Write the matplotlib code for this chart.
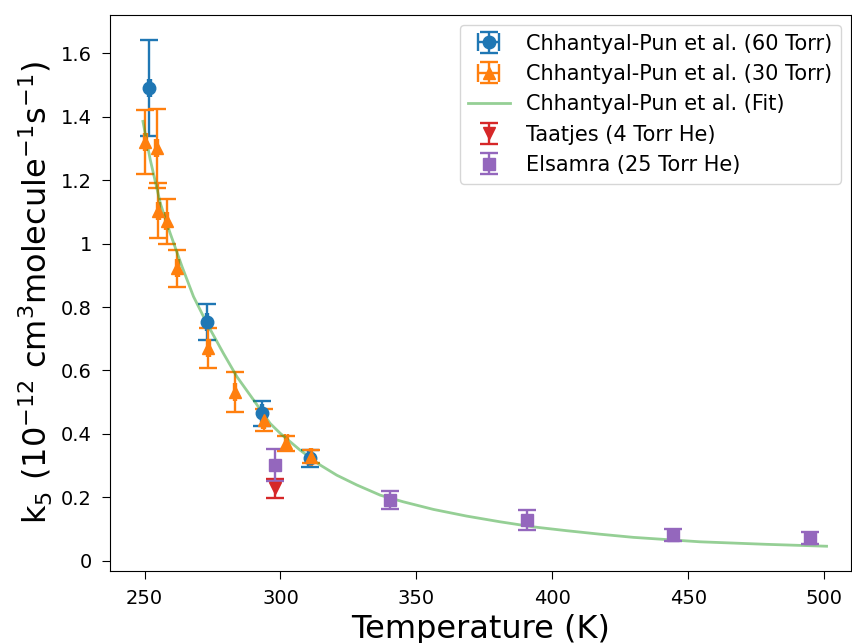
import numpy as np
import matplotlib
matplotlib.use("Agg")
import matplotlib.pyplot as plt
from matplotlib.ticker import FormatStrFormatter

# Chhantyal-Pun et al. 60 Torr
t60 = [251.7, 273.0, 293.2, 310.7]
k60 = [1.49, 0.754, 0.465, 0.323]
e60 = [0.15, 0.057, 0.04, 0.026]

# Chhantyal-Pun et al. 30 Torr
t30 = [250.3, 254.5, 255.1, 258.2, 262.1, 273.5, 283.3, 293.8, 302.1, 311.2]
k30 = [1.32, 1.30, 1.104, 1.07, 0.922, 0.67, 0.532, 0.444, 0.370, 0.328]
e30 = [0.10, 0.125, 0.087, 0.07, 0.058, 0.063, 0.064, 0.035, 0.024, 0.02]

# fit curve
t_fit = [249.4, 252.1, 255.8, 259.4, 263.8, 268.0, 272.9, 279.0, 284.0, 290.1,
         296.2, 299.9, 307.2, 314.6, 320.7, 328.1, 336.7, 345.2, 356.3, 368.5,
         380.8, 393.0, 405.3, 417.5, 429.8, 454.3, 478.8, 500.9]
k_fit = [1.385, 1.264, 1.127, 1.033, 0.927, 0.833, 0.749, 0.654, 0.580, 0.507,
         0.433, 0.402, 0.349, 0.302, 0.270, 0.239, 0.207, 0.186, 0.162, 0.141,
         0.123, 0.107, 0.095, 0.084, 0.074, 0.060, 0.052, 0.046]

# Taatjes 4 Torr He
t_taat = [298.1]
k_taat = [0.228]
e_taat = [0.029]

# Elsamra 25 Torr He
t_els = [298.1, 340.3, 390.6, 444.5, 494.7]
k_els = [0.302, 0.191, 0.128, 0.081, 0.071]
e_els = [0.05, 0.028, 0.032, 0.019, 0.019]

fig = plt.figure(figsize=(8.53, 6.43), dpi=100)
ax = fig.add_axes([0.129, 0.112, 0.869, 0.865])

ax.errorbar(t60, k60, yerr=e60, xerr=0.5, fmt='o', color='tab:blue',
            markersize=9, capsize=6.5, elinewidth=1.7, capthick=1.7,
            label='Chhantyal-Pun et al. (60 Torr)')
ax.errorbar(t30, k30, yerr=e30, xerr=0.5, fmt='^', color='tab:orange',
            markersize=9, capsize=6.5, elinewidth=1.7, capthick=1.7,
            label='Chhantyal-Pun et al. (30 Torr)')
ax.plot(t_fit, k_fit, color='tab:green', alpha=0.5, lw=2,
        label='Chhantyal-Pun et al. (Fit)')
ax.errorbar(t_taat, k_taat, yerr=e_taat, fmt='v', color='tab:red',
            markersize=9, capsize=6.5, elinewidth=1.7, capthick=1.7,
            label='Taatjes (4 Torr He)')
ax.errorbar(t_els, k_els, yerr=e_els, fmt='s', color='tab:purple',
            markersize=9, capsize=6.5, elinewidth=1.7, capthick=1.7,
            label='Elsamra (25 Torr He)')

ax.set_xlim(237.3, 510)
ax.set_ylim(-0.032, 1.721)
ax.set_xticks([250, 300, 350, 400, 450, 500])
ax.set_yticks([0, 0.2, 0.4, 0.6, 0.8, 1, 1.2, 1.4, 1.6])
ax.yaxis.set_major_formatter(FormatStrFormatter('%g'))
ax.tick_params(labelsize=14, length=6, pad=7)

ax.set_xlabel('Temperature (K)', fontsize=23)
ax.set_ylabel(r'k$_5$ (10$^{-12}$ cm$^3$molecule$^{-1}$s$^{-1}$)', fontsize=23)

# legend in plotting order
h, l = ax.get_legend_handles_labels()
order = [1, 2, 0, 3, 4]
ax.legend([h[i] for i in order], [l[i] for i in order],
          loc='upper right', fontsize=15)

fig.savefig('out.png', dpi=100)
